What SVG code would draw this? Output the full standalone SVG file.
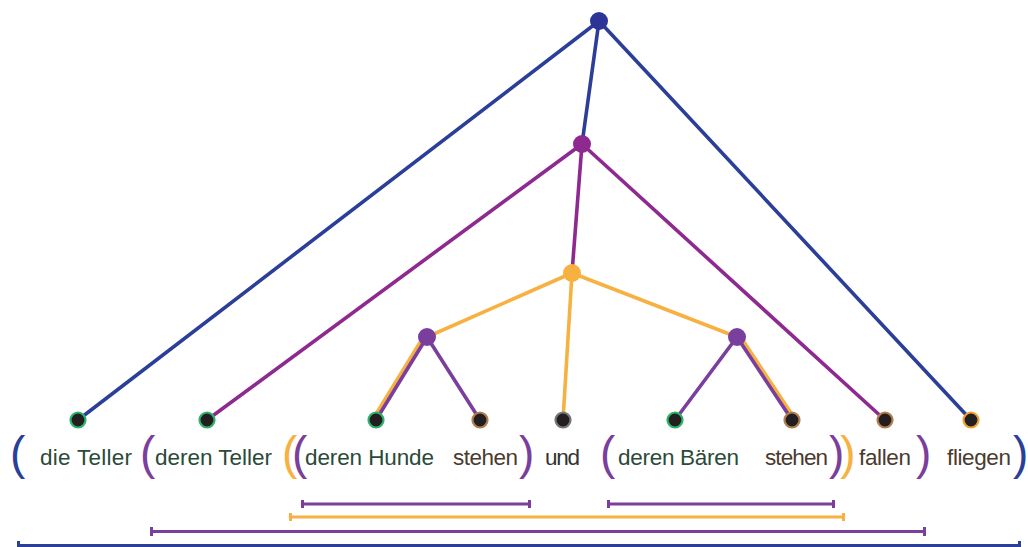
<svg xmlns="http://www.w3.org/2000/svg" width="1028" height="547" viewBox="0 0 1028 547">
<style>
.e{fill:none;stroke-width:3.6;stroke-linecap:round}
.blue{stroke:#2b3f99}
.mag{stroke:#8e2a8f}
.ora{stroke:#f7b140}
.pur{stroke:#7a3e9c}
.leaf{fill:#231f20;stroke-width:2.2}
.w{font-family:"Liberation Sans",Arial,sans-serif;font-size:22.5px}
.g{fill:#2b4a38}
.b{fill:#4a3b2e}
.u{fill:#333333}
.p{font-family:"Liberation Sans",Arial,sans-serif;font-size:46px}
.bar{stroke-width:3;fill:none}
</style>
<rect width="1028" height="547" fill="#ffffff"/>
<g id="connectors">
<line class="e blue" x1="599" y1="21" x2="78" y2="420"/>
<line class="e blue" x1="599" y1="21" x2="582" y2="144"/>
<line class="e blue" x1="599" y1="21" x2="971" y2="420"/>
<line class="e mag" x1="582" y1="144" x2="207" y2="420"/>
<line class="e mag" x1="582" y1="144" x2="572" y2="273"/>
<line class="e mag" x1="582" y1="144" x2="885" y2="420"/>
<line class="e ora" x1="572" y1="273" x2="427" y2="337"/>
<line class="e ora" x1="572" y1="273" x2="563" y2="420"/>
<line class="e ora" x1="572" y1="273" x2="737" y2="337"/>
<line class="e ora" x1="424" y1="336" x2="373" y2="419"/>
<line class="e ora" x1="740" y1="336" x2="795" y2="419"/>
<line class="e pur" x1="427" y1="337" x2="376" y2="420"/>
<line class="e pur" x1="427" y1="337" x2="480" y2="420"/>
<line class="e pur" x1="737" y1="337" x2="675" y2="420"/>
<line class="e pur" x1="737" y1="337" x2="792" y2="420"/>
</g>
<g id="n-root"><circle cx="599" cy="21" r="9" fill="#2c3597"/></g>
<g id="n-mag"><circle cx="582" cy="144" r="9" fill="#8e2a8f"/></g>
<g id="n-ora"><circle cx="572" cy="273" r="9" fill="#f7b140"/></g>
<g id="n-purL"><circle cx="427" cy="337" r="9" fill="#7a3e9c"/></g>
<g id="n-purR"><circle cx="737" cy="337" r="9" fill="#7a3e9c"/></g>
<g id="leaf-1"><circle class="leaf" cx="78" cy="420" r="7.5" stroke="#2fb36b"/></g>
<g id="leaf-2"><circle class="leaf" cx="207" cy="420" r="7.5" stroke="#2fb36b"/></g>
<g id="leaf-3"><circle class="leaf" cx="376" cy="420" r="7.5" stroke="#2fb36b"/></g>
<g id="leaf-4"><circle class="leaf" cx="480" cy="420" r="7.5" stroke="#b08050"/></g>
<g id="leaf-5"><circle class="leaf" cx="563" cy="420" r="7.5" stroke="#777777"/></g>
<g id="leaf-6"><circle class="leaf" cx="675" cy="420" r="7.5" stroke="#2fb36b"/></g>
<g id="leaf-7"><circle class="leaf" cx="792" cy="420" r="7.5" stroke="#b08050"/></g>
<g id="leaf-8"><circle class="leaf" cx="885" cy="420" r="7.5" stroke="#b08050"/></g>
<g id="leaf-9"><circle class="leaf" cx="971" cy="420" r="7.5" stroke="#f0a030"/></g>
<g id="words">
<text class="w g" x="40" y="465" textLength="92" lengthAdjust="spacing">die Teller</text>
<text class="w g" x="155" y="465" textLength="117" lengthAdjust="spacing">deren Teller</text>
<text class="w g" x="305" y="465" textLength="129" lengthAdjust="spacing">deren Hunde</text>
<text class="w b" x="453" y="465" textLength="65" lengthAdjust="spacing">stehen</text>
<text class="w u" x="545" y="465" textLength="35" lengthAdjust="spacing">und</text>
<text class="w g" x="618" y="465" textLength="121" lengthAdjust="spacing">deren Bären</text>
<text class="w b" x="765" y="465" textLength="63" lengthAdjust="spacing">stehen</text>
<text class="w b" x="859" y="465" textLength="52" lengthAdjust="spacing">fallen</text>
<text class="w b" x="947" y="465" textLength="64" lengthAdjust="spacing">fliegen</text>
</g>
<g id="parens">
<text class="p" x="10" y="469" fill="#2b3f99">(</text>
<text class="p" x="140" y="469" fill="#7a3e9c">(</text>
<text class="p" x="282" y="469" letter-spacing="-5.3"><tspan fill="#f7b140">(</tspan><tspan fill="#7a3e9c">(</tspan></text>
<text class="p" x="519" y="469" fill="#7a3e9c">)</text>
<text class="p" x="600" y="469" fill="#7a3e9c">(</text>
<text class="p" x="829" y="469" letter-spacing="-4"><tspan fill="#7a3e9c">)</tspan><tspan fill="#f7b140">)</tspan></text>
<text class="p" x="916" y="469" fill="#7a3e9c">)</text>
<text class="p" x="1013" y="469" fill="#2b3f99">)</text>
</g>
<g id="spans">
<line class="bar pur" x1="302" y1="504" x2="530" y2="504"/>
<rect x="301" y="500" width="3" height="8" fill="#7a3e9c"/>
<rect x="528" y="500" width="3" height="8" fill="#7a3e9c"/>
<line class="bar pur" x1="608" y1="504" x2="834" y2="504"/>
<rect x="607" y="500" width="3" height="8" fill="#7a3e9c"/>
<rect x="832" y="500" width="3" height="8" fill="#7a3e9c"/>
<line class="bar ora" x1="290" y1="517" x2="844" y2="517"/>
<rect x="289" y="513" width="3" height="8" fill="#f7b140"/>
<rect x="842" y="513" width="3" height="8" fill="#f7b140"/>
<line class="bar pur" x1="151" y1="531.5" x2="925" y2="531.5"/>
<rect x="150" y="527" width="3" height="9" fill="#7a3e9c"/>
<rect x="923" y="527" width="3" height="9" fill="#7a3e9c"/>
<line class="bar blue" x1="18" y1="545.5" x2="1020" y2="545.5"/>
<rect x="17" y="541" width="3" height="6" fill="#2b3f99"/>
<rect x="1018" y="541" width="3" height="6" fill="#2b3f99"/>
</g>
</svg>
